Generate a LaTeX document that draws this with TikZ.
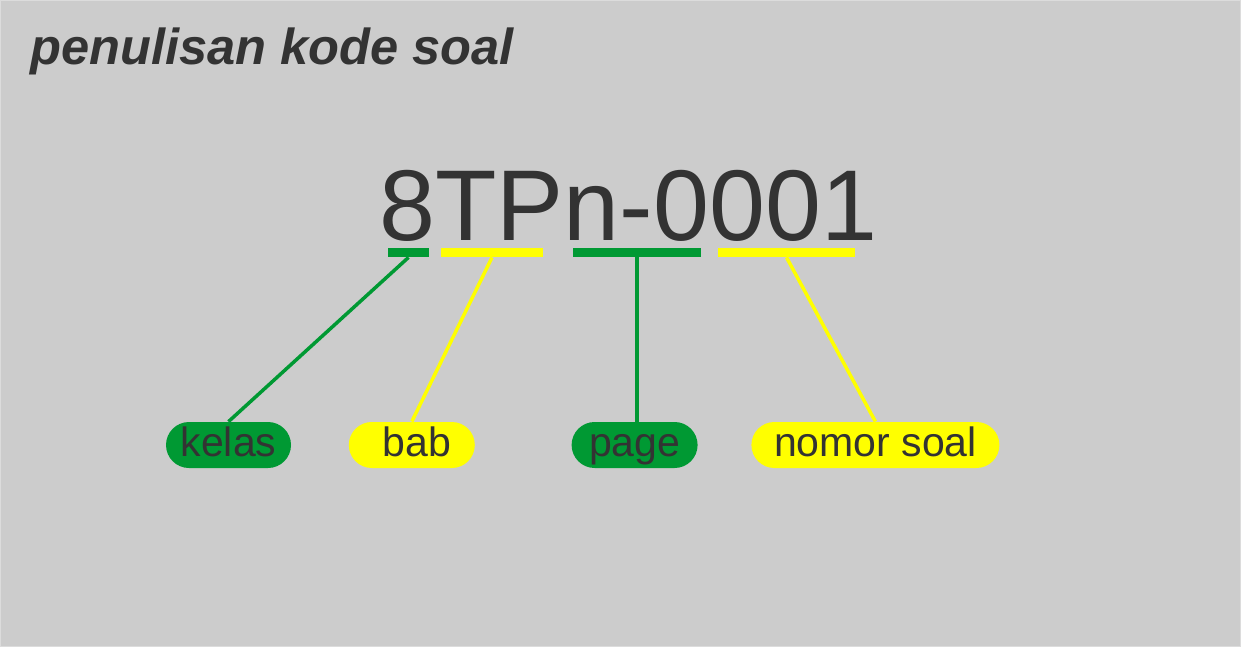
\documentclass[tikz,border=0pt]{standalone}
\usepackage{fontspec}
\setmainfont{Liberation Sans}
\usepackage{tikz}
\usetikzlibrary{positioning}
\definecolor{bggray}{HTML}{CCCCCC}
\definecolor{edgegray}{HTML}{DCDCDC}
\definecolor{inkgray}{HTML}{333333}
\definecolor{kgreen}{HTML}{009933}
\definecolor{kyellow}{HTML}{FFFF00}

\begin{document}
\begin{tikzpicture}[x=0.5pt,y=-0.5pt,
  bar/.style={rectangle,inner sep=0pt,minimum height=4.5pt},
  pill/.style={rectangle,rounded corners=11.5pt,inner sep=0pt,minimum height=23pt,
    text=inkgray,font=\fontsize{20.5}{24}\selectfont,text height=14pt,text depth=3pt},
  link/.style={line width=1.75pt}]
\useasboundingbox (0,0) rectangle (1241,647);
\draw[fill=bggray,draw=edgegray,line width=0.5pt] (0.5,0.5) rectangle (1240.5,646.5);
\node[anchor=base west,text=inkgray,inner sep=0pt,font=\fontsize{25.3}{30}\selectfont\bfseries\itshape] at(30,65)(t) {penulisan kode soal};
\node[anchor=base west,text=inkgray,inner sep=0pt,font=\fontsize{50.3}{60}\selectfont] at(379,240)(c) {8TPn-0001};
\node[bar,fill=kgreen,minimum width=20.5pt] at(408.5,252.5)(1) {};
\node[bar,fill=kyellow,minimum width=51pt] at(492,252.5)(2) {};
\node[bar,fill=kgreen,minimum width=64pt] at(637,252.5)(3) {};
\node[bar,fill=kyellow,minimum width=68.5pt] at(786.5,252.5)(4) {};
\node[pill,fill=kgreen,minimum width=62.5pt] at(228.5,445)(5) {kelas};
\node[pill,fill=kyellow,minimum width=63pt,right=28.5pt of 5](6) {\hspace{5pt}bab};
\node[pill,fill=kgreen,minimum width=63pt,right=48pt of 6](7) {page};
\node[pill,fill=kyellow,minimum width=124pt,right=26.5pt of 7](8) {nomor soal};
\draw[link,kgreen] (1.south)--(5.north);
\draw[link,kyellow] (2.south)--(6.north);
\draw[link,kgreen] (3.south)--(3.south|-7.north);
\draw[link,kyellow] (4.south)--(8.north);
\end{tikzpicture}
\end{document}
